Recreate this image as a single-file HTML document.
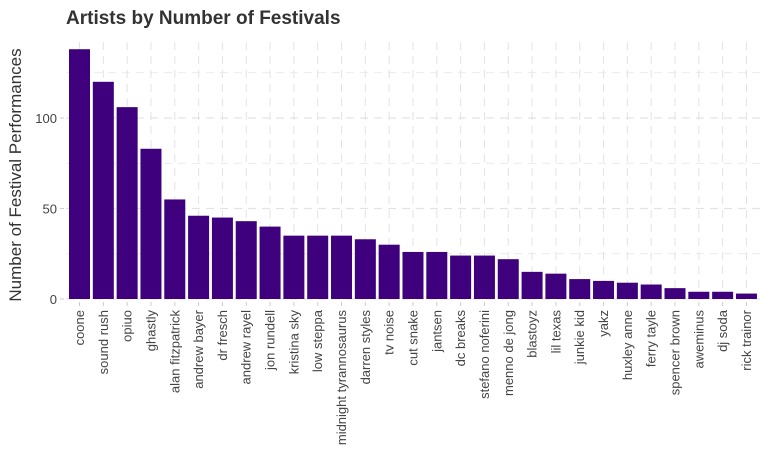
<!DOCTYPE html>
<html><head><meta charset="utf-8"><style>
body{margin:0;background:#fff;font-family:"Liberation Sans",Arial,sans-serif}
svg{display:block}
</style></head><body>
<svg id="chart" width="770" height="475">
<text x="66" y="24" font-size="19" font-weight="bold" fill="#333">Artists by Number of Festivals</text>
<text transform="translate(21,175) rotate(-90)" text-anchor="middle" font-size="17" fill="#333">Number of Festival Performances</text>
<g id="grid"></g><g id="bars"></g><g id="yticks"></g><g id="xticks"></g>
</svg>
<script>
const categories=["coone","sound rush","opiuo","ghastly","alan fitzpatrick","andrew bayer","dr fresch","andrew rayel","jon rundell","kristina sky","low steppa","midnight tyrannosaurus","darren styles","tv noise","cut snake","jantsen","dc breaks","stefano noferini","menno de jong","blastoyz","lil texas","junkie kid","yakz","huxley anne","ferry tayle","spencer brown","aweminus","dj soda","rick trainor"];
const values=[138,120,106,83,55,46,45,43,40,35,35,35,33,30,26,26,24,24,22,15,14,11,10,9,8,6,4,4,3];
const yTicks=[0,50,100];
const yMinor=[25,75,125];
const NS="http://www.w3.org/2000/svg";
const x0=79.5, step=23.82, bw=21;
const xPos=i=>x0+i*step;
const yPos=v=>299-v*1.81;
function mk(t,a,p){const e=document.createElementNS(NS,t);for(const k in a)e.setAttribute(k,a[k]);document.querySelector(p).appendChild(e);return e;}
[...yTicks,...yMinor].forEach(v=>{
 const l=mk('line',{x1:66,x2:760,y1:yPos(v),y2:yPos(v),stroke:'#e3e3e3','stroke-width':yTicks.includes(v)?1.2:0.8,'stroke-dasharray':'8,6'},'#grid');
 
 
});
categories.forEach((c,i)=>{
 const l=mk('line',{x1:xPos(i),x2:xPos(i),y1:42,y2:299,stroke:'#e3e3e3','stroke-width':1,'stroke-dasharray':'8,6'},'#grid');
 
 
});
values.forEach((v,i)=>{
 const r=mk('rect',{x:xPos(i)-bw/2,y:yPos(v),width:bw,height:299-yPos(v),fill:'#3f007d'},'#bars');
 
 
});
yTicks.forEach(v=>{
 const t=mk('text',{x:57,y:yPos(v)+5,'text-anchor':'end','font-size':13,fill:'#444'},'#yticks');
 t.textContent=v;
 
 
 mk('line',{x1:60,x2:64,y1:yPos(v),y2:yPos(v),stroke:'#ccc'},'#yticks');
});
categories.forEach((c,i)=>{
 mk('line',{x1:xPos(i),x2:xPos(i),y1:302,y2:306,stroke:'#ccc'},'#xticks');
 const t=mk('text',{transform:`translate(${xPos(i)+4.5},310) rotate(-90)`,'text-anchor':'end','font-size':13,fill:'#444'},'#xticks');
 t.textContent=c;
 
 
});
</script>
</body></html>
